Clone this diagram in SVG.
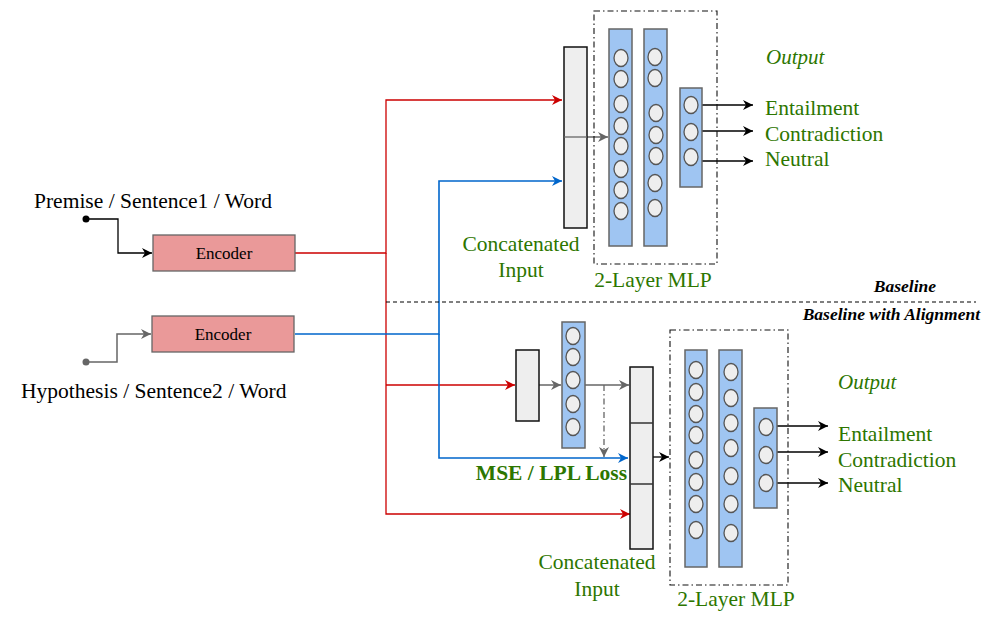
<svg xmlns="http://www.w3.org/2000/svg" width="991" height="618" viewBox="0 0 991 618">
<style>
text{font-family:"Liberation Serif","Times New Roman",serif}
.g{fill:#2d7600;font-size:21.5px}
.it{font-style:italic;font-size:21px}
.blk{fill:#000;font-size:21.5px}
.enc{fill:#ea9999;stroke:#666;stroke-width:1.3}
.cat{fill:#eeeeee;stroke:#111;stroke-width:1.5}
.lay{fill:#9fc5f2;stroke:#666;stroke-width:1.5}
.neu{fill:#eeeeee;stroke:#555;stroke-width:1.3}
.dd{fill:none;stroke:#111;stroke-width:1.1;stroke-dasharray:6 3 1.5 3}
.red{fill:none;stroke:#cc0000;stroke-width:1.3}
.blue{fill:none;stroke:#0066cc;stroke-width:1.6}
.gray{fill:none;stroke:#666;stroke-width:1.5}
.bk{fill:none;stroke:#000;stroke-width:1.3}
</style>
<defs>
<marker id="aR" viewBox="0 0 10 10" refX="10" refY="5" markerWidth="10" markerHeight="10" markerUnits="userSpaceOnUse" orient="auto"><path d="M0,0 L10,5 L0,10 L3,5 z" fill="#cc0000"/></marker>
<marker id="aB" viewBox="0 0 10 10" refX="10" refY="5" markerWidth="10" markerHeight="10" markerUnits="userSpaceOnUse" orient="auto"><path d="M0,0 L10,5 L0,10 L3,5 z" fill="#0066cc"/></marker>
<marker id="aG" viewBox="0 0 10 10" refX="10" refY="5" markerWidth="10" markerHeight="10" markerUnits="userSpaceOnUse" orient="auto"><path d="M0,0 L10,5 L0,10 L3,5 z" fill="#666"/></marker>
<marker id="aK" viewBox="0 0 10 10" refX="10" refY="5" markerWidth="10" markerHeight="10" markerUnits="userSpaceOnUse" orient="auto"><path d="M0,0 L10,5 L0,10 L3,5 z" fill="#000"/></marker>
</defs>

<g id="connectors">
<circle cx="86" cy="219" r="3.5" fill="#000"/>
<polyline class="bk" points="86,219 118,219 118,253 152,253" marker-end="url(#aK)"/>
<circle cx="86" cy="362" r="3.5" fill="#666"/>
<polyline class="gray" points="86,362 117,362 117,334 151,334" marker-end="url(#aG)"/>
<polyline class="red" points="295,253 386,253 386,100 562,100" marker-end="url(#aR)"/>
<polyline class="red" points="386,253 386,514 630,514" marker-end="url(#aR)"/>
<polyline class="red" points="386,385 515,385" marker-end="url(#aR)"/>
<polyline class="blue" points="295,334 439,334 439,181 562,181" marker-end="url(#aB)"/>
<polyline class="blue" points="439,334 439,458 628,458" marker-end="url(#aB)"/>
<line class="gray" x1="587" y1="137" x2="608" y2="137" marker-end="url(#aG)"/>
<line class="bk" x1="702" y1="105" x2="753" y2="105" marker-end="url(#aK)"/>
<line class="bk" x1="702" y1="131" x2="753" y2="131" marker-end="url(#aK)"/>
<line class="bk" x1="702" y1="161" x2="753" y2="161" marker-end="url(#aK)"/>
<line class="gray" x1="539" y1="385" x2="561" y2="385" marker-end="url(#aG)"/>
<line class="gray" x1="585" y1="385" x2="629" y2="385" marker-end="url(#aG)"/>
<line x1="604" y1="385" x2="604" y2="457" fill="none" stroke="#666" stroke-width="1.3" stroke-dasharray="6 3 1.5 3" marker-end="url(#aG)"/>
<line class="bk" x1="652" y1="457" x2="669" y2="457" marker-end="url(#aK)"/>
<line class="bk" x1="777" y1="426" x2="828" y2="426" marker-end="url(#aK)"/>
<line class="bk" x1="777" y1="452" x2="828" y2="452" marker-end="url(#aK)"/>
<line class="bk" x1="777" y1="483" x2="828" y2="483" marker-end="url(#aK)"/>
<line x1="386" y1="302" x2="976" y2="302" stroke="#000" stroke-width="1.2" stroke-dasharray="4 3"/>
</g>

<g id="premise-label"><text class="blk" x="34" y="208">Premise / Sentence1 / Word</text></g>
<g id="hypothesis-label"><text class="blk" x="21" y="398">Hypothesis / Sentence2 / Word</text></g>

<g id="encoder1"><rect class="enc" x="153" y="235" width="142" height="36"/><text x="224" y="259" text-anchor="middle" font-size="17">Encoder</text></g>
<g id="encoder2"><rect class="enc" x="152" y="316" width="142" height="36"/><text x="223" y="340" text-anchor="middle" font-size="17">Encoder</text></g>

<g id="baseline-labels">
<text x="936" y="292" text-anchor="end" font-size="17.5" font-weight="bold" font-style="italic">Baseline</text>
<text x="980" y="320" text-anchor="end" font-size="17.5" font-weight="bold" font-style="italic">Baseline with Alignment</text>
</g>

<g id="top-concat">
<rect class="cat" x="564" y="47" width="23" height="181"/>
<line x1="564" y1="137" x2="587" y2="137" stroke="#666" stroke-width="1.3"/>
<text class="g" x="521" y="251" text-anchor="middle">Concatenated</text>
<text class="g" x="521" y="277" text-anchor="middle">Input</text>
</g>
<g id="top-mlp">
<rect class="dd" x="594" y="11" width="123" height="253"/>
<rect class="lay" x="609" y="29" width="23" height="217"/>
<g class="neu">
<ellipse cx="621" cy="58" rx="7" ry="8.5"/><ellipse cx="621" cy="79" rx="7" ry="8.5"/><ellipse cx="621" cy="104" rx="7" ry="8.5"/><ellipse cx="621" cy="126" rx="7" ry="8.5"/><ellipse cx="621" cy="146" rx="7" ry="8.5"/><ellipse cx="621" cy="169" rx="7" ry="8.5"/><ellipse cx="621" cy="190" rx="7" ry="8.5"/><ellipse cx="621" cy="211" rx="7" ry="8.5"/>
</g>
<rect class="lay" x="644" y="29" width="23" height="217"/>
<g class="neu">
<ellipse cx="655" cy="57" rx="7" ry="8.5"/><ellipse cx="655" cy="78" rx="7" ry="8.5"/><ellipse cx="656" cy="113" rx="7" ry="8.5"/><ellipse cx="656" cy="135" rx="7" ry="8.5"/><ellipse cx="656" cy="156" rx="7" ry="8.5"/><ellipse cx="655" cy="183" rx="7" ry="8.5"/><ellipse cx="655" cy="208" rx="7" ry="8.5"/>
</g>
<text class="g" x="653" y="287" text-anchor="middle">2-Layer MLP</text>
</g>
<g id="top-output">
<rect class="lay" x="680" y="88" width="22" height="99"/>
<g class="neu"><ellipse cx="691" cy="105" rx="7" ry="8.5"/><ellipse cx="691" cy="132" rx="7" ry="8.5"/><ellipse cx="691" cy="157" rx="7" ry="8.5"/></g>
<text class="g it" x="766" y="64">Output</text>
<text class="g" x="765" y="115">Entailment</text>
<text class="g" x="765" y="141">Contradiction</text>
<text class="g" x="765" y="166">Neutral</text>
</g>

<g id="align-box"><rect class="cat" x="516" y="350" width="23" height="71"/></g>
<g id="align-layer">
<rect class="lay" x="562" y="322" width="23" height="126"/>
<g class="neu"><ellipse cx="573" cy="336" rx="7" ry="8.5"/><ellipse cx="573" cy="357" rx="7" ry="8.5"/><ellipse cx="573" cy="380" rx="7" ry="8.5"/><ellipse cx="573" cy="404" rx="7" ry="8.5"/><ellipse cx="573" cy="427" rx="7" ry="8.5"/></g>
</g>
<g id="loss-label"><text x="627" y="480" text-anchor="end" font-size="21.5" font-weight="bold" fill="#2d7600">MSE / LPL Loss</text></g>
<g id="bottom-concat">
<rect class="cat" x="630" y="367" width="23" height="182"/>
<line x1="630" y1="423" x2="653" y2="423" stroke="#333" stroke-width="1.5"/>
<line x1="630" y1="484" x2="653" y2="484" stroke="#333" stroke-width="1.5"/>
<text class="g" x="597" y="569" text-anchor="middle">Concatenated</text>
<text class="g" x="597" y="596" text-anchor="middle">Input</text>
</g>
<g id="bottom-mlp">
<rect class="dd" x="670" y="330" width="118" height="255"/>
<rect class="lay" x="685" y="350" width="22" height="217"/>
<g class="neu">
<ellipse cx="696" cy="370" rx="7" ry="8.5"/><ellipse cx="696" cy="392" rx="7" ry="8.5"/><ellipse cx="696" cy="414" rx="7" ry="8.5"/><ellipse cx="696" cy="435" rx="7" ry="8.5"/><ellipse cx="696" cy="460" rx="7" ry="8.5"/><ellipse cx="696" cy="482" rx="7" ry="8.5"/><ellipse cx="696" cy="504" rx="7" ry="8.5"/><ellipse cx="696" cy="530" rx="7" ry="8.5"/>
</g>
<rect class="lay" x="719" y="350" width="23" height="217"/>
<g class="neu">
<ellipse cx="731" cy="372" rx="7" ry="8.5"/><ellipse cx="731" cy="398" rx="7" ry="8.5"/><ellipse cx="731" cy="423" rx="7" ry="8.5"/><ellipse cx="731" cy="448" rx="7" ry="8.5"/><ellipse cx="731" cy="476" rx="7" ry="8.5"/><ellipse cx="731" cy="504" rx="7" ry="8.5"/><ellipse cx="731" cy="533" rx="7" ry="8.5"/>
</g>
<text class="g" x="736" y="606" text-anchor="middle">2-Layer MLP</text>
</g>
<g id="bottom-output">
<rect class="lay" x="754" y="408" width="23" height="100"/>
<g class="neu"><ellipse cx="766" cy="427" rx="7" ry="8.5"/><ellipse cx="766" cy="455" rx="7" ry="8.5"/><ellipse cx="766" cy="483" rx="7" ry="8.5"/></g>
<text class="g it" x="838" y="389">Output</text>
<text class="g" x="838" y="441">Entailment</text>
<text class="g" x="838" y="467">Contradiction</text>
<text class="g" x="838" y="492">Neutral</text>
</g>
</svg>
